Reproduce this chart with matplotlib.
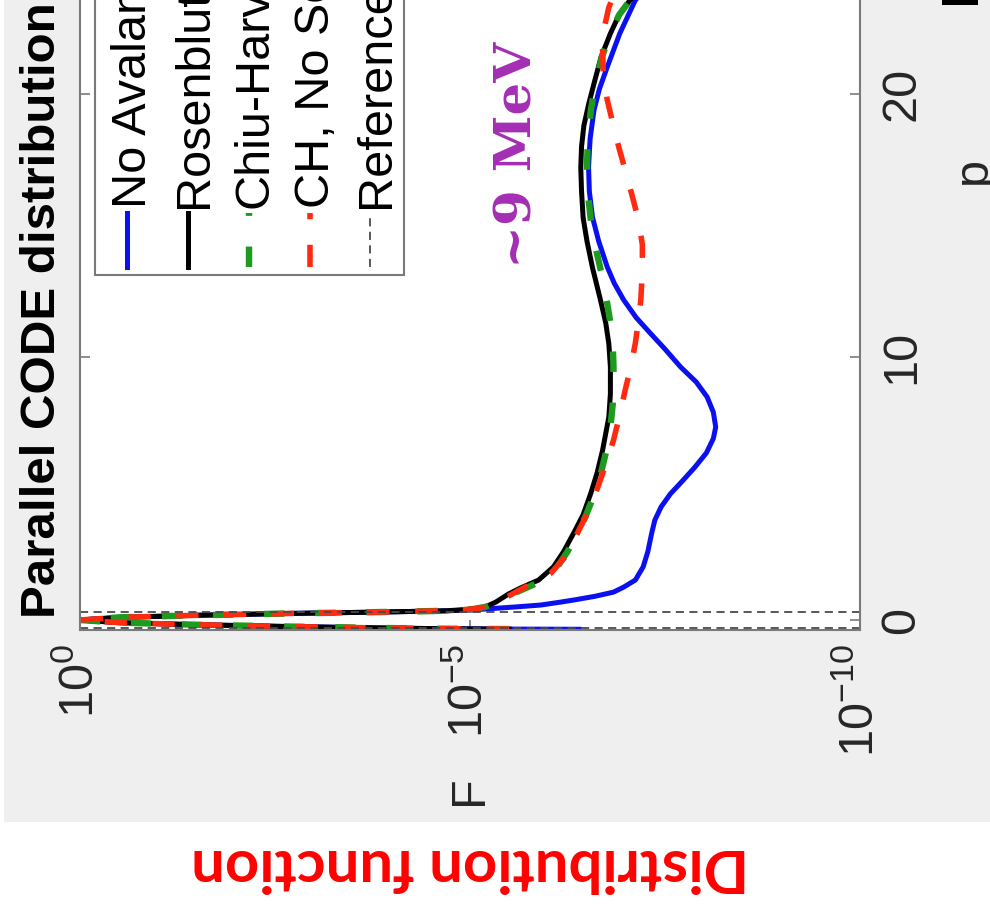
import numpy as np
import matplotlib.pyplot as plt
from matplotlib.patches import Rectangle
from matplotlib.lines import Line2D

plt.rcParams['font.family'] = ['Liberation Sans', 'DejaVu Sans']
plt.rcParams['mathtext.fontset'] = 'custom'
plt.rcParams['mathtext.rm'] = 'Liberation Sans'
plt.rcParams['mathtext.it'] = 'Liberation Sans:italic'
plt.rcParams['mathtext.bf'] = 'Liberation Sans:bold'

core_p = [-0.345, -0.33, -0.30, -0.25, -0.18, -0.10, 0.0, 0.10, 0.18, 0.25, 0.30, 0.35]
core_lgF = [-5.5, -4.6, -3.8, -2.7, -1.5, -0.5, 0.0, -0.5, -1.5, -2.7, -3.8, -4.7]

rosen_p = [0.42, 0.5, 0.68, 1.0, 1.22, 1.52, 2.02, 2.6, 3.31, 4.0, 4.83, 5.6, 6.46, 7.72, 8.6,
           9.62, 10.5, 11.3, 12.2, 13.4, 14.4, 15.3, 16.3, 17.2, 18.0, 18.8, 19.6, 20.4, 21.4,
           22.3, 23.0, 23.6, 24.3, 25.2]
rosen_lgF = [-5.05, -5.20, -5.33, -5.50, -5.65, -5.88, -6.07, -6.20, -6.33, -6.45, -6.55, -6.63,
             -6.70, -6.78, -6.80, -6.80, -6.78, -6.74, -6.67, -6.57, -6.50, -6.45, -6.43, -6.42,
             -6.43, -6.46, -6.52, -6.59, -6.68, -6.80, -6.91, -7.06, -7.30, -7.60]

noav_p = [0.38, 0.5, 0.57, 0.68, 0.76, 0.9, 1.06, 1.25, 1.52, 2.02, 2.6, 3.31, 3.8, 4.3, 4.8,
          5.21, 5.8, 6.35, 6.9, 7.34, 7.9, 8.48, 9.05, 9.62, 10.3, 10.91, 11.5, 12.17, 12.8,
          13.42, 14.4, 15.32, 16.3, 17.22, 18.3, 19.39, 20.2, 21.03, 22.3, 23.57, 24.3, 25.2]
noav_lgF = [-5.01, -5.6, -5.91, -6.16, -6.33, -6.6, -6.84, -6.97, -7.12, -7.22, -7.28, -7.33,
            -7.37, -7.45, -7.57, -7.70, -7.88, -8.03, -8.12, -8.15, -8.12, -8.04, -7.90, -7.70,
            -7.50, -7.31, -7.13, -6.97, -6.85, -6.76, -6.65, -6.57, -6.53, -6.52, -6.54, -6.59,
            -6.66, -6.76, -6.92, -7.12, -7.35, -7.65]

ch_p = [0.42, 0.5, 0.68, 1.0, 1.52, 2.02, 2.6, 3.31, 4.0, 4.83, 5.6, 6.46, 7.34, 8.2, 9.0,
        9.62, 10.5, 11.3, 12.2, 13.0, 13.9, 14.9, 16.0, 17.2, 18.3, 19.4, 20.4, 21.4, 22.3,
        23.0, 23.6, 24.3, 25.2]
ch_lgF = [-5.05, -5.20, -5.35, -5.55, -5.95, -6.12, -6.25, -6.38, -6.49, -6.60, -6.68, -6.75,
          -6.80, -6.83, -6.84, -6.84, -6.83, -6.80, -6.75, -6.70, -6.63, -6.56, -6.52, -6.50,
          -6.51, -6.55, -6.61, -6.69, -6.80, -6.91, -7.06, -7.30, -7.60]

chns_p = [0.42, 0.5, 0.68, 1.0, 1.79, 2.5, 3.38, 4.2, 5.06, 5.9, 6.84, 7.8, 8.75, 9.6, 10.53,
          11.4, 12.17, 13.3, 14.26, 15.2, 16.12, 17.0, 17.95, 18.9, 19.77, 20.7, 21.67, 22.5,
          23.3, 24.1, 25.0]
chns_lgF = [-5.05, -5.20, -5.35, -5.55, -6.04, -6.25, -6.39, -6.53, -6.64, -6.74, -6.84, -6.92,
            -6.99, -7.06, -7.12, -7.16, -7.19, -7.21, -7.21, -7.16, -7.08, -7.0, -6.91, -6.83,
            -6.76, -6.71, -6.70, -6.72, -6.78, -6.9, -7.1]

ref_p = [-0.30, 0.30]

legend_labels = ['No Avalanche', 'Rosenbluth-Putvinski', 'Chiu-Harvey', 'CH, No Source', 'Reference']

W, H = 990, 909


def fx(x):
    return x / W


def fy(y):
    return 1 - y / H


fig = plt.figure(figsize=(9.9, 9.09), dpi=100)
fig.patch.set_facecolor('white')
fig.add_artist(Rectangle((fx(4), fy(822)), 1, 1, transform=fig.transFigure,
                         facecolor='#efefef', edgecolor='none', zorder=-10))

ax = fig.add_axes([fx(80), fy(630), fx(860) - fx(80), (630 + 290) / H])
ax.set_facecolor('white')
ax.set_xscale('log')
ax.set_xlim(1, 1e-10)
ax.set_ylim(-0.38, 34.6)

# curves
blue_p = [-0.352] + core_p + noav_p
blue_lg = [-6.4] + core_lgF + noav_lgF
ax.plot(10 ** np.array(blue_lg), blue_p, color='#0a10f0', lw=3.6)
ax.plot(10 ** np.array(core_lgF + rosen_lgF), core_p + rosen_p, color='black', lw=3.6)
ax.plot(10 ** np.array(core_lgF + ch_lgF), core_p + ch_p, color='#1e9a1e', lw=4.6,
        dashes=(3.2, 4.8))
ax.plot(10 ** np.array(core_lgF + chns_lgF), core_p + chns_p, color='#ff2a10', lw=4.0,
        dashes=(4.0, 4.6))
for rp in ref_p:
    ax.axhline(rp, color='#4a4a4a', lw=1.3, dashes=(4.5, 3))

# axes styling
for s in ax.spines.values():
    s.set_color('#7a7a7a')
    s.set_linewidth(1.5)
ax.set_xticks([1, 1e-5, 1e-10])
ax.set_xticklabels([r'$\mathregular{10^{0}}$', r'$\mathregular{10^{-5}}$', r'$\mathregular{10^{-10}}$'])
ax.minorticks_off()
ax.set_yticks([0, 10, 20])
ax.set_yticklabels(['0', '10', '20'])
ax.tick_params(axis='both', which='major', direction='in', length=7, width=1.2,
               color='#7a7a7a', labelcolor='#262626', labelsize=35)
ax.tick_params(axis='x', top=True, bottom=True, labelrotation=90, pad=10)
ax.tick_params(axis='y', left=True, right=True, labelleft=False, labelright=True,
               labelrotation=90, pad=14)
for t in ax.yaxis.get_major_ticks():
    t.label2.set_va('center')

# axis labels, rotated with the plot
ax.text(0.5, -0.174, 'F', transform=ax.transAxes, rotation=90, ha='center', va='center',
        fontsize=35, color='#262626')
ax.text(1.145, 0.5, 'p', transform=ax.transAxes, rotation=90, ha='center', va='center',
        fontsize=35, color='#262626')

# title (rotated with the plot)
fig.text(fx(55), fy(618), 'Parallel CODE distribution,', rotation=90, rotation_mode='anchor',
         ha='left', va='baseline', fontsize=35.5, fontweight='bold', color='black')

# legend, drawn by hand because it is rotated
fig.add_artist(Rectangle((fx(95), fy(275)), fx(404) - fx(95), 0.5, transform=fig.transFigure,
                         facecolor='white', edgecolor='#7a7a7a', lw=1.5, zorder=5))
leg_x = [127, 188, 249, 310, 370]
leg_style = [dict(color='#0a10f0', lw=3.6), dict(color='black', lw=3.6),
             dict(color='#1e9a1e', lw=4.6, dashes=(3.2, 4.8)),
             dict(color='#ff2a10', lw=4.0, dashes=(4.0, 4.6)),
             dict(color='#4a4a4a', lw=1.3, dashes=(4.5, 3))]
for lx, st, lab in zip(leg_x, leg_style, legend_labels):
    fig.add_artist(Line2D([fx(lx), fx(lx)], [fy(267), fy(213)], transform=fig.transFigure,
                          zorder=6, **st))
    fig.text(fx(lx + 19), fy(208), lab, rotation=90, rotation_mode='anchor', ha='left',
             va='baseline', fontsize=35, color='black', zorder=6)

# annotation
fig.text(fx(531), fy(268), '~9 MeV', rotation=90, rotation_mode='anchor', ha='left',
         va='baseline', fontsize=37, fontweight='bold', color='#a42eb4',
         family=['DejaVu Serif'])

fig.text(fx(470), fy(866), 'Distribution function', rotation=180, ha='center', va='center',
         fontsize=43, fontweight='bold', color='#ff0000', family=['Lato', 'DejaVu Sans'])

fig.add_artist(Rectangle((fx(942), fy(5)), fx(36), 0.02, transform=fig.transFigure,
                         facecolor='black', edgecolor='none'))

fig.savefig('out.png', dpi=100)
